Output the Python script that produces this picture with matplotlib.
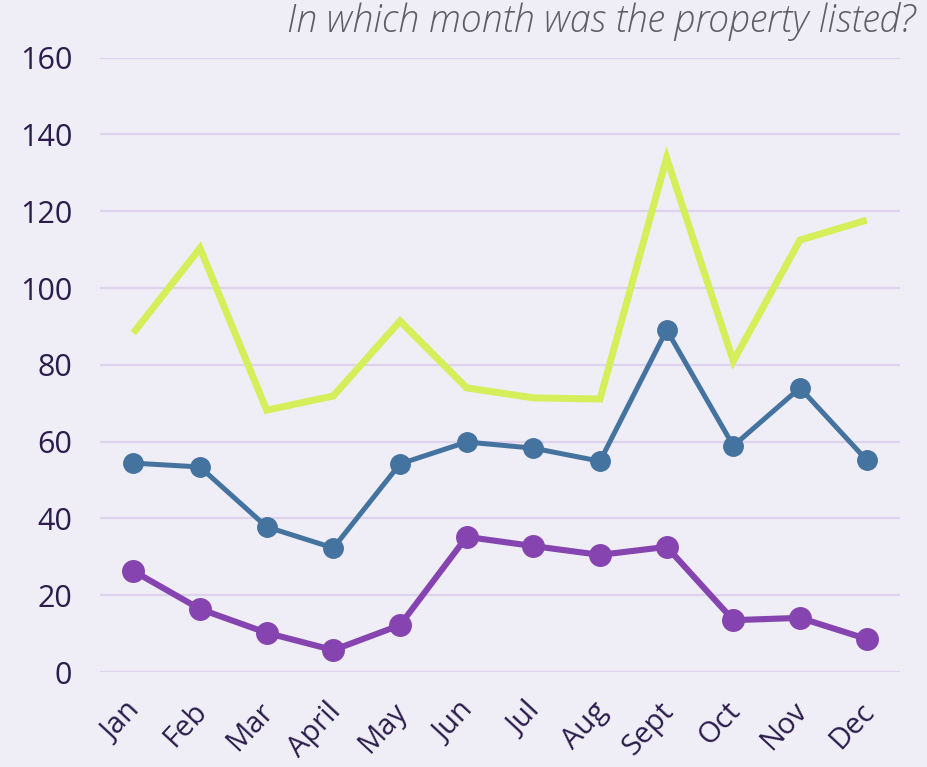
import matplotlib
matplotlib.use("Agg")
import matplotlib.pyplot as plt

months = ["Jan", "Feb", "Mar", "April", "May", "Jun", "Jul", "Aug", "Sept", "Oct", "Nov", "Dec"]
green_vals = [88.3, 110.4, 68.2, 71.9, 91.4, 74.0, 71.4, 71.1, 133.9, 81.0, 112.5, 117.7]
blue_vals = [54.4, 53.4, 37.8, 32.3, 54.2, 59.9, 58.3, 54.9, 89.1, 58.9, 74.0, 55.2]
purple_vals = [26.3, 16.4, 10.2, 5.7, 12.2, 35.2, 32.8, 30.5, 32.6, 13.5, 14.1, 8.6]
y_ticks = [0, 20, 40, 60, 80, 100, 120, 140, 160]
title = "In which month was the property listed?"

bg = "#efedf5"
text_c = "#2b1d4c"
plt.rcParams['font.family'] = ['Open Sans', 'DejaVu Sans']

fig = plt.figure(figsize=(9.28, 7.67), dpi=100, facecolor=bg)
ax = fig.add_axes([100/928, 1 - 672/767, 800/928, (672 - 57.7)/767])
ax.set_facecolor(bg)
x = list(range(len(months)))

ax.plot(x, green_vals, color="#d4ef5a", lw=5, solid_capstyle="butt", solid_joinstyle="miter", clip_on=False, zorder=3)
ax.plot(x, blue_vals, color="#44739f", lw=3.6, marker="o", ms=14, clip_on=False, zorder=4)
ax.plot(x, purple_vals, color="#8544b0", lw=4.4, marker="o", ms=15.5, clip_on=False, zorder=5)

ax.set_xlim(-0.5, 11.5)
ax.set_ylim(0, 160)
ax.set_yticks(y_ticks)
ax.set_xticks(x)
ax.set_xticklabels(months, rotation=47, ha="right", rotation_mode="anchor")
ax.grid(axis="y", color="#ddd3ee", lw=1.6, zorder=0)
ax.set_axisbelow(True)
for s in ax.spines.values():
    s.set_visible(False)
ax.tick_params(axis="y", length=0, pad=20, labelsize=22, labelcolor=text_c)
ax.tick_params(axis="x", length=0, pad=18, labelsize=21, labelcolor=text_c)
for lab in ax.get_xticklabels():
    lab.set_transform(lab.get_transform() + matplotlib.transforms.ScaledTranslation(-8/100, 0, fig.dpi_scale_trans))

fig.text(915/928, 1 - 32/767, title, ha="right", va="baseline", fontsize=27,
         style="italic", fontweight="light", color="#5f5e66")

fig.savefig("out.png", dpi=100, facecolor=bg)
